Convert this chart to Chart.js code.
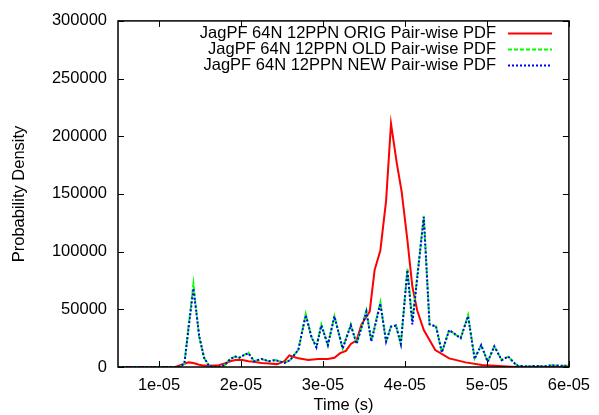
<!DOCTYPE html>
<html>
<head>
<meta charset="utf-8">
<script src="https://cdn.jsdelivr.net/npm/chart.js@4/dist/chart.umd.min.js"></script>
<style>
  html, body { margin: 0; padding: 0; background: #fff; }
  #wrap { width: 599px; height: 415px; position: relative; }
</style>
</head>
<body>
<div id="wrap"><canvas id="chart" width="599" height="415"></canvas></div>
<script>
// axis limits
const xMin = 5e-6;
const xMax = 6e-5;
const xStep = 1e-5;
const yMin = 0;
const yMax = 300000;
const yStep = 50000;

const seriesLabels = [
    'JagPF 64N 12PPN ORIG Pair-wise PDF',
    'JagPF 64N 12PPN OLD Pair-wise PDF',
    'JagPF 64N 12PPN NEW Pair-wise PDF'
];

// ORIG (red)
const origTime = [
    5.0e-6, 12.0e-6, 12.6e-6, 13.6e-6, 14.2e-6, 14.9e-6, 15.5e-6, 16.1e-6, 17.3e-6, 18.0e-6,
    18.7e-6, 19.3e-6, 20.2e-6, 20.9e-6, 21.6e-6, 22.5e-6, 23.4e-6, 24.4e-6, 25.3e-6, 25.9e-6,
    27.0e-6, 28.2e-6, 29.4e-6, 30.6e-6, 31.4e-6, 32.1e-6, 32.8e-6, 33.4e-6, 34.1e-6, 34.7e-6,
    35.7e-6, 36.3e-6, 37.0e-6, 37.7e-6, 38.3e-6, 39.0e-6, 39.6e-6, 40.3e-6, 40.9e-6, 41.5e-6,
    42.3e-6, 43.7e-6, 45.4e-6, 47.4e-6, 49.4e-6, 50.0e-6, 52.4e-6, 53.6e-6, 60.0e-6
];
const origDensity = [
    0, 0, 1500, 4000, 3500, 2000, 1200, 1000, 1500, 3000,
    5000, 6000, 6000, 5000, 4500, 3500, 3000, 2500, 5000, 10000,
    7500, 6000, 7000, 7000, 8000, 12000, 14000, 20000, 23000, 37000,
    48000, 84000, 101000, 144000, 211000, 177000, 152000, 110000, 70000, 49000,
    32000, 14700, 7500, 4000, 1800, 1500, 500, 0, 0
];

// OLD (green)
const oldTime = [
    5.0e-6, 12.0e-6, 12.6e-6, 13.1e-6, 13.6e-6, 14.2e-6, 14.9e-6, 15.5e-6, 16.1e-6, 16.7e-6,
    17.3e-6, 18.0e-6, 18.7e-6, 19.3e-6, 19.8e-6, 20.3e-6, 20.9e-6, 21.6e-6, 22.5e-6, 23.4e-6,
    24.2e-6, 25.3e-6, 26.0e-6, 27.0e-6, 27.9e-6, 28.6e-6, 29.2e-6, 29.8e-6, 30.6e-6, 31.4e-6,
    32.4e-6, 33.4e-6, 34.1e-6, 35.3e-6, 35.9e-6, 37.0e-6, 37.7e-6, 38.3e-6, 38.9e-6, 39.5e-6,
    40.3e-6, 40.9e-6, 42.3e-6, 43.0e-6, 43.8e-6, 44.5e-6, 45.4e-6, 46.8e-6, 47.7e-6, 48.5e-6,
    49.3e-6, 50.1e-6, 50.9e-6, 51.8e-6, 52.6e-6, 53.4e-6, 53.8e-6, 55.0e-6, 56.0e-6, 57.0e-6,
    58.0e-6, 59.0e-6, 60.0e-6
];
const oldDensity = [
    0, 0, 500, 3000, 35000, 72000, 26000, 8000, 1000, 0,
    0, 1500, 7000, 9000, 8000, 10000, 12500, 5000, 7000, 5000,
    6000, 3500, 6000, 15000, 46000, 26000, 17500, 37000, 19000, 44000,
    16000, 37000, 20000, 49000, 23000, 56000, 22000, 35000, 36000, 20000,
    85000, 40000, 131000, 37000, 35000, 13000, 32000, 25000, 45000, 7500,
    19000, 4500, 18000, 6000, 9000, 3000, 1000, 500, 1000, 500,
    1500, 1000, 1000
];

// NEW (blue)
const newTime = oldTime;
const newDensity = [
    0, 0, 500, 3000, 33000, 68000, 27000, 8000, 1000, 0,
    0, 1500, 7000, 9000, 8000, 10000, 12000, 5000, 7000, 5000,
    6000, 3500, 6000, 15000, 45000, 26000, 17000, 36000, 19000, 44000,
    16000, 36000, 20000, 48000, 22000, 55000, 22000, 35000, 36000, 20000,
    84000, 37000, 130000, 37000, 35000, 12500, 32000, 25000, 44000, 7000,
    19000, 4500, 18000, 6000, 9000, 3000, 1000, 500, 1000, 500,
    1500, 1000, 1000
];

const FONT = "'Liberation Sans', Arial, Helvetica, sans-serif";

const toPoints = (xs, ys) => xs.map((x, i) => ({ x, y: ys[i] }));

const fmtExp = v => v.toExponential(0).replace(/e([+-])(\d)$/, 'e$10$2');

// gnuplot style frame with inward ticks on all four sides
const framePlugin = {
    id: 'frame',
    afterDatasetsDraw(chart) {
        const { ctx, chartArea: a, scales } = chart;
        const len = 6;
        ctx.save();
        ctx.strokeStyle = '#000';
        ctx.lineWidth = 1;
        ctx.beginPath();
        scales.x.ticks.forEach(t => {
            const px = Math.round(scales.x.getPixelForValue(t.value)) + 0.5;
            ctx.moveTo(px, a.bottom); ctx.lineTo(px, a.bottom - len);
            ctx.moveTo(px, a.top); ctx.lineTo(px, a.top + len);
        });
        scales.y.ticks.forEach(t => {
            const py = Math.round(scales.y.getPixelForValue(t.value)) + 0.5;
            ctx.moveTo(a.left, py); ctx.lineTo(a.left + len, py);
            ctx.moveTo(a.right, py); ctx.lineTo(a.right - len, py);
        });
        ctx.stroke();
        ctx.lineWidth = 1.5;
        ctx.strokeRect(a.left, a.top, a.right - a.left, a.bottom - a.top);
        ctx.restore();
    }
};

// key in the upper right: label right-aligned, line sample after it
const keyPlugin = {
    id: 'key',
    afterDraw(chart, args, opts) {
        const { ctx } = chart;
        ctx.save();
        ctx.font = `${opts.size}px ${FONT}`;
        ctx.textAlign = 'right';
        ctx.textBaseline = 'middle';
        chart.data.datasets.forEach((ds, i) => {
            const y = opts.top + i * opts.row;
            ctx.fillStyle = '#000';
            ctx.fillText(ds.label, opts.textRight, y + 0.5);
            ctx.strokeStyle = ds.borderColor;
            ctx.lineWidth = ds.borderWidth;
            ctx.setLineDash(ds.borderDash || []);
            ctx.beginPath();
            ctx.moveTo(opts.lineFrom, Math.round(y) + 0.5);
            ctx.lineTo(opts.lineTo, Math.round(y) + 0.5);
            ctx.stroke();
        });
        ctx.restore();
    }
};

new Chart(document.getElementById('chart'), {
    type: 'line',
    data: {
        datasets: [
            {
                label: seriesLabels[0],
                data: toPoints(origTime, origDensity),
                borderColor: '#ff0000',
                borderWidth: 2,
                order: 3
            },
            {
                label: seriesLabels[1],
                data: toPoints(oldTime, oldDensity),
                borderColor: '#00ff00',
                borderWidth: 2,
                borderDash: [4, 2],
                order: 2
            },
            {
                label: seriesLabels[2],
                data: toPoints(newTime, newDensity),
                borderColor: '#0000ff',
                borderWidth: 2,
                borderDash: [2, 2],
                order: 1
            }
        ]
    },
    options: {
        responsive: false,
        animation: false,
        events: [],
        elements: {
            point: { radius: 0 },
            line: { tension: 0, fill: false }
        },
        layout: { padding: { top: 19, right: 26, left: 0, bottom: 0 } },
        plugins: {
            legend: { display: false },
            tooltip: { enabled: false },
            key: { size: 16.5, top: 32.5, row: 16, textRight: 496, lineFrom: 508, lineTo: 552 }
        },
        scales: {
            x: {
                type: 'linear',
                min: xMin,
                max: xMax,
                grid: { display: false, drawTicks: false },
                border: { display: false },
                ticks: {
                    stepSize: xStep,
                    includeBounds: false,
                    padding: 9,
                    color: '#000',
                    font: { family: FONT, size: 16.5 },
                    maxRotation: 0,
                    callback: v => fmtExp(v)
                },
                title: {
                    display: true,
                    text: 'Time (s)',
                    color: '#000',
                    font: { family: FONT, size: 16.5 },
                    padding: { top: 0, bottom: 0 }
                },
                afterFit: s => { s.height = 48; }
            },
            y: {
                min: yMin,
                max: yMax,
                grid: { display: false, drawTicks: false },
                border: { display: false },
                ticks: {
                    stepSize: yStep,
                    padding: 11,
                    color: '#000',
                    font: { family: FONT, size: 16.5 },
                    callback: v => String(v)
                },
                title: {
                    display: true,
                    text: 'Probability Density',
                    color: '#000',
                    font: { family: FONT, size: 16.5 },
                    padding: { top: 10, bottom: 0 }
                },
                afterFit: s => { s.width = 118; }
            }
        }
    },
    plugins: [framePlugin, keyPlugin]
});
</script>
</body>
</html>
